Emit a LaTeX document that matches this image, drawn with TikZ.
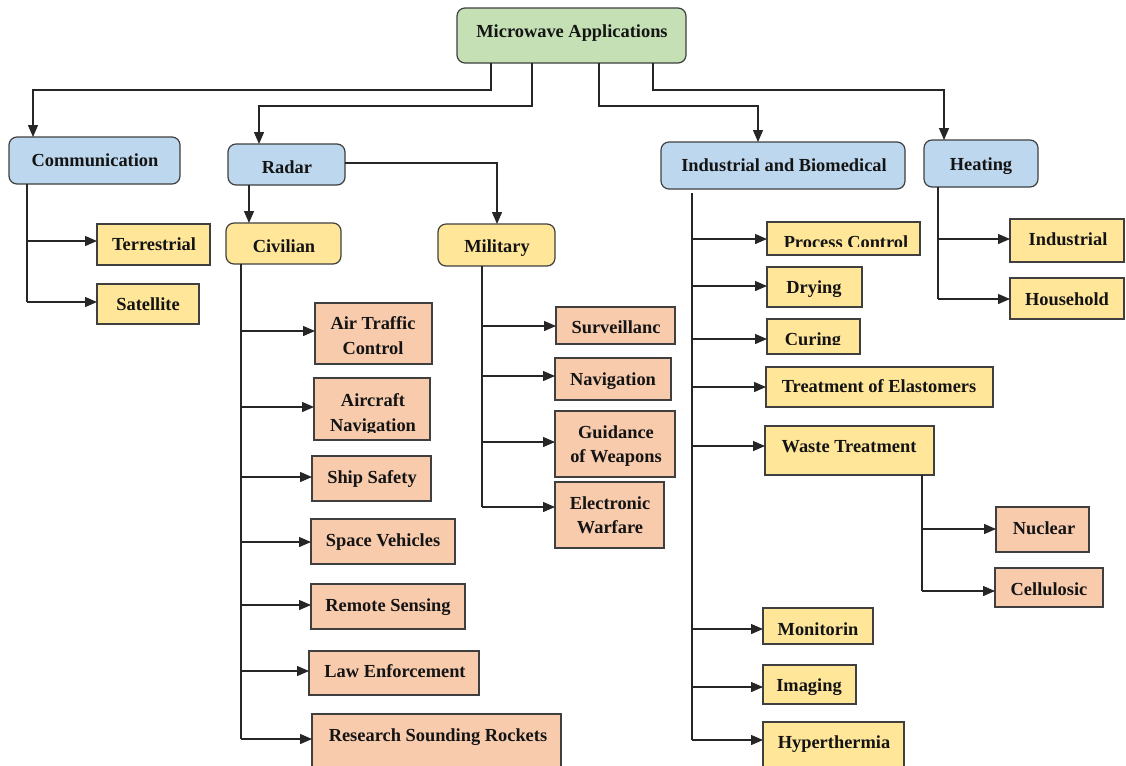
\documentclass[tikz,border=0pt]{standalone}
\usepackage{fontspec}
\setmainfont{Liberation Serif}
\usetikzlibrary{arrows.meta}

\definecolor{rootgreen}{HTML}{C5E0B4}
\definecolor{catblue}{HTML}{BDD7EE}
\definecolor{subyellow}{HTML}{FFE699}
\definecolor{leafsalmon}{HTML}{F8CBAD}
\definecolor{edgegray}{HTML}{3F3F3F}

\tikzset{
  box/.style={draw=edgegray, line width=0.9pt, inner sep=0pt, outer sep=0pt},
  roundbox/.style={box, rounded corners=6pt},
  rootbox/.style={roundbox, fill=rootgreen},
  catbox/.style={roundbox, fill=catblue},
  subbox/.style={roundbox, fill=subyellow},
  itembox/.style={box, fill=subyellow},
  leafbox/.style={box, fill=leafsalmon},
  txt/.style={anchor=base, inner sep=0pt, font=\fontsize{13.8}{16}\selectfont\bfseries, text=black!92},
  wire/.style={draw=black!85, line width=1pt},
  arr/.style={wire, -{Triangle[length=9pt,width=7.5pt]}},
}

% box from (x1,y1) to (x2,y2), in pixel units
\newcommand\boxat[6]{\node[#2, minimum width={(#5-#3)*0.75pt}, minimum height={(#6-#4)*0.75pt}] (#1) at ({(#3+#5)/2},{(#4+#6)/2}) {};}
% one line of text on its baseline
\newcommand\boxtext[4]{\node[txt] (#1) at (#2,#3) {#4};}
% horizontal arrow from a trunk at x=#2, height y=#3, to the left side of node #1
\newcommand\branch[3]{\coordinate (#1-in) at (#2,#3); \draw[arr] (#1-in) -- (#1-in -| #1.west);}

\begin{document}
\begin{tikzpicture}[x=0.75pt, y=-0.75pt]
\clip (0,0) rectangle (1126,765);
\fill[white] (0,0) rectangle (1126,765);

% ---------- top level ----------
\boxat{root}{rootbox}{457}{8}{686}{63}
\boxtext{root-t}{572}{37}{Microwave Applications}

\boxat{comm}{catbox}{9}{137}{180}{184}
\boxtext{comm-t}{95}{166}{Communication}
\boxat{radar}{catbox}{228}{144}{345}{185}
\boxtext{radar-t}{287}{173}{Radar}
\boxat{indb}{catbox}{661}{142}{905}{189}
\boxtext{indb-t}{784}{171}{Industrial and Biomedical}
\boxat{heat}{catbox}{924}{140}{1038}{187}
\boxtext{heat-t}{981}{170}{Heating}

% ---------- communication ----------
\boxat{terr}{itembox}{97}{224}{210}{265}
\boxtext{terr-t}{154}{250}{Terrestrial}
\boxat{sat}{itembox}{97}{284}{199}{324}
\boxtext{sat-t}{148}{310}{Satellite}

% ---------- radar ----------
\boxat{civ}{subbox}{226}{223}{341}{264}
\boxtext{civ-t}{284}{252}{Civilian}
\boxat{mil}{subbox}{438}{224}{555}{266}
\boxtext{mil-t}{497}{252}{Military}

\boxat{atc}{leafbox}{315}{303}{432}{364}
\boxtext{atc-t1}{373}{329}{Air Traffic}
\boxtext{atc-t2}{373}{354}{Control}
\boxat{acn}{leafbox}{314}{378}{430}{440}
\boxtext{acn-t1}{373}{406}{Aircraft}
\begin{scope}
  \clip (314,378) rectangle (430,432);
  \boxtext{acn-t2}{373}{431}{Navigation}
\end{scope}
\boxat{ship}{leafbox}{312}{456}{431}{501}
\boxtext{ship-t}{372}{483}{Ship Safety}
\boxat{space}{leafbox}{311}{519}{455}{564}
\boxtext{space-t}{383}{546}{Space Vehicles}
\boxat{remote}{leafbox}{311}{584}{465}{629}
\boxtext{remote-t}{388}{611}{Remote Sensing}
\boxat{law}{leafbox}{309}{651}{479}{695}
\boxtext{law-t}{395}{677}{Law Enforcement}
\boxat{rsr}{leafbox}{312}{714}{561}{772}
\boxtext{rsr-t}{438}{741}{Research Sounding Rockets}

\boxat{surv}{leafbox}{556}{307}{675}{344}
\boxtext{surv-t}{616}{333}{Surveillanc}
\boxat{nav}{leafbox}{555}{358}{671}{400}
\boxtext{nav-t}{613}{385}{Navigation}
\boxat{guid}{leafbox}{555}{411}{675}{477}
\boxtext{guid-t1}{616}{438}{Guidance}
\boxtext{guid-t2}{616}{462}{of Weapons}
\boxat{ew}{leafbox}{555}{482}{664}{548}
\boxtext{ew-t1}{610}{509}{Electronic}
\boxtext{ew-t2}{610}{533}{Warfare}

% ---------- industrial and biomedical ----------
\boxat{pc}{itembox}{767}{222}{920}{255}
\begin{scope}
  \clip (767,222) rectangle (920,246.5);
  \boxtext{pc-t}{846}{248}{Process Control}
\end{scope}
\boxat{dry}{itembox}{767}{267}{862}{307}
\boxtext{dry-t}{814}{293}{Drying}
\boxat{cur}{itembox}{767}{319}{860}{354}
\begin{scope}
  \clip (767,319) rectangle (860,344.5);
  \boxtext{cur-t}{813}{345.5}{Curing}
\end{scope}
\boxat{elast}{itembox}{766}{367}{993}{407}
\boxtext{elast-t}{879}{392}{Treatment of Elastomers}
\boxat{waste}{itembox}{765}{426}{934}{475}
\boxtext{waste-t}{849}{452}{Waste Treatment}
\boxat{nuc}{leafbox}{996}{507}{1089}{552}
\boxtext{nuc-t}{1044}{534}{Nuclear}
\boxat{cell}{leafbox}{995}{568}{1103}{607}
\boxtext{cell-t}{1049}{595}{Cellulosic}
\boxat{mon}{itembox}{763}{608}{873}{644}
\boxtext{mon-t}{818}{635}{Monitorin}
\boxat{img}{itembox}{763}{665}{856}{704}
\boxtext{img-t}{809}{691}{Imaging}
\boxat{hyp}{itembox}{763}{722}{904}{772}
\boxtext{hyp-t}{834}{748}{Hyperthermia}

% ---------- heating ----------
\boxat{hind}{itembox}{1010}{219}{1124}{262}
\boxtext{hind-t}{1068}{245}{Industrial}
\boxat{hhouse}{itembox}{1010}{278}{1124}{319}
\boxtext{hhouse-t}{1067}{305}{Household}

% ---------- connectors from the root ----------
\coordinate (r1) at (491,90);  \coordinate (r1b) at (33,90);
\draw[arr] (root.south -| r1) -- (r1) -- (r1b) -- (r1b |- comm.north);
\coordinate (r2) at (532,106); \coordinate (r2b) at (259,106);
\draw[arr] (root.south -| r2) -- (r2) -- (r2b) -- (r2b |- radar.north);
\coordinate (r3) at (599,106); \coordinate (r3b) at (758,106);
\draw[arr] (root.south -| r3) -- (r3) -- (r3b) -- (r3b |- indb.north);
\coordinate (r4) at (653,90);  \coordinate (r4b) at (944,90);
\draw[arr] (root.south -| r4) -- (r4) -- (r4b) -- (r4b |- heat.north);

% ---------- communication ----------
\branch{terr}{27}{241}
\branch{sat}{27}{302}
\draw[wire] (comm.south -| terr-in) -- (sat-in);

% ---------- radar ----------
\coordinate (rc) at (249,200);
\draw[arr] (radar.south -| rc) -- (rc |- civ.north);
\coordinate (rm) at (497,163);
\draw[arr] (radar.east |- rm) -- (rm) -- (rm |- mil.north);

\branch{atc}{241}{331}
\branch{acn}{241}{407}
\branch{ship}{241}{477}
\branch{space}{241}{542}
\branch{remote}{241}{605}
\branch{law}{241}{671}
\branch{rsr}{241}{739}
\draw[wire] (civ.south -| atc-in) -- (rsr-in);

\branch{surv}{482}{326}
\branch{nav}{482}{376}
\branch{guid}{482}{442}
\branch{ew}{482}{507}
\draw[wire] (mil.south -| surv-in) -- (ew-in);

% ---------- industrial and biomedical ----------
\branch{pc}{692}{239}
\branch{dry}{692}{286}
\branch{cur}{692}{339}
\branch{elast}{692}{387}
\branch{waste}{692}{446}
\branch{mon}{692}{629}
\branch{img}{692}{687}
\branch{hyp}{692}{740}
\draw[wire] (indb.south -| pc-in) ++(0,4) -- (hyp-in);

\branch{nuc}{922}{529}
\branch{cell}{922}{591}
\draw[wire] (waste.south -| nuc-in) -- (cell-in);

% ---------- heating ----------
\branch{hind}{938}{239}
\branch{hhouse}{938}{299}
\draw[wire] (heat.south -| hind-in) -- (hhouse-in);
\end{tikzpicture}
\end{document}
